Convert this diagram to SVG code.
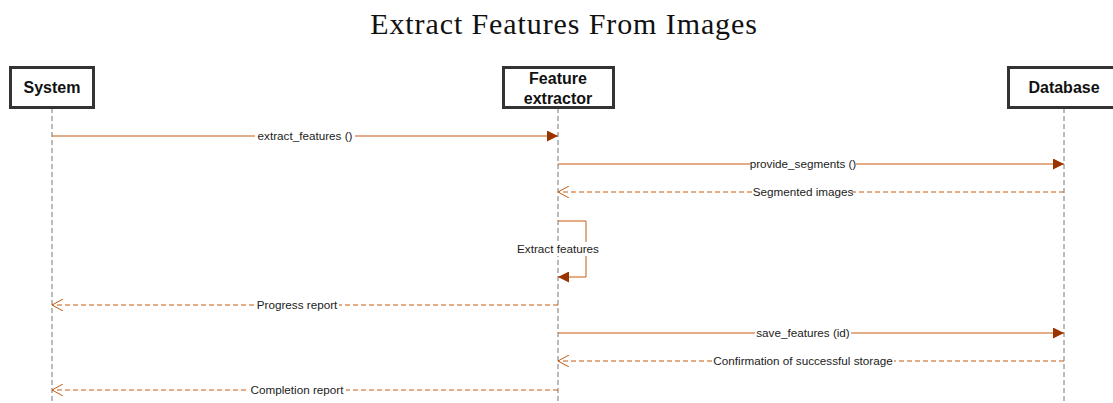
<svg xmlns="http://www.w3.org/2000/svg" width="1113" height="403" viewBox="0 0 1113 403">
  <defs>
    <style>
      .title { font-family: "Liberation Serif", serif; font-size: 30px; letter-spacing: 0.9px; fill: #111; }
      .box { fill: #fff; stroke: #333; stroke-width: 3; }
      .node-label { font-family: "Liberation Sans", Arial, sans-serif; font-size: 16px; font-weight: bold; fill: #111; }
      .lifeline { stroke: #777; stroke-width: 1; stroke-dasharray: 5 3; fill: none; }
      .call { stroke: #c55a11; stroke-width: 1; fill: none; }
      .reply { stroke: #c55a11; stroke-width: 1; stroke-dasharray: 5 3; fill: none; }
      .msg { font-family: "Liberation Sans", Arial, sans-serif; font-size: 11.7px; fill: #222; }
      .bg { fill: #fff; }
    </style>
    <marker id="filled" viewBox="0 0 10 10" refX="10" refY="5" markerWidth="11" markerHeight="11" markerUnits="userSpaceOnUse" orient="auto">
      <path d="M0,0 L10,5 L0,10 Z" fill="#993300"/>
    </marker>
    <marker id="open" viewBox="0 0 12 12" refX="11" refY="6" markerWidth="12" markerHeight="12" markerUnits="userSpaceOnUse" orient="auto">
      <path d="M0,0 L11,6 L0,12" fill="none" stroke="#c55a11" stroke-width="1"/>
    </marker>
  </defs>

  <rect width="1113" height="403" fill="#fff"/>

  <text class="title" x="564" y="34" text-anchor="middle">Extract Features From Images</text>

  <!-- lifelines -->
  <g id="lifelines">
    <line class="lifeline" x1="52" y1="108" x2="52" y2="403"/>
    <line class="lifeline" x1="558" y1="108" x2="558" y2="403"/>
    <line class="lifeline" x1="1064" y1="108" x2="1064" y2="403"/>
  </g>

  <g id="system">
    <rect class="box" x="10.5" y="67.5" width="83" height="40"/>
    <text class="node-label" x="52" y="93" text-anchor="middle">System</text>
  </g>

  <g id="feature-extractor">
    <rect class="box" x="503.5" y="67.5" width="110" height="40"/>
    <text class="node-label" x="558" y="84" text-anchor="middle">Feature</text>
    <text class="node-label" x="558" y="104" text-anchor="middle">extractor</text>
  </g>

  <g id="database">
    <rect class="box" x="1008.5" y="67.5" width="110" height="40"/>
    <text class="node-label" x="1064" y="93" text-anchor="middle">Database</text>
  </g>

  <g id="connectors">
    <!-- System -> Feature extractor -->
    <line class="call" x1="52" y1="136" x2="558" y2="136" marker-end="url(#filled)"/>
    <rect class="bg" x="255" y="129" width="100" height="14"/>
    <text class="msg" x="305" y="140" text-anchor="middle">extract_features ()</text>

    <!-- Feature extractor -> Database -->
    <line class="call" x1="558" y1="164" x2="1064" y2="164" marker-end="url(#filled)"/>
    <rect class="bg" x="750" y="157" width="106" height="14"/>
    <text class="msg" x="803" y="168" text-anchor="middle">provide_segments ()</text>

    <line class="reply" x1="1064" y1="192" x2="558" y2="192" marker-end="url(#open)"/>
    <rect class="bg" x="754" y="185" width="98" height="14"/>
    <text class="msg" x="803" y="196" text-anchor="middle">Segmented images</text>

    <!-- self call -->
    <path class="call" d="M558,221 H586 V277 H558" marker-end="url(#filled)"/>
    <rect class="bg" x="514" y="242" width="88" height="14"/>
    <text class="msg" x="558" y="253" text-anchor="middle">Extract features</text>

    <line class="reply" x1="558" y1="305" x2="52" y2="305" marker-end="url(#open)"/>
    <rect class="bg" x="255" y="298" width="84" height="14"/>
    <text class="msg" x="297" y="309" text-anchor="middle">Progress report</text>

    <line class="call" x1="558" y1="333" x2="1064" y2="333" marker-end="url(#filled)"/>
    <rect class="bg" x="755" y="326" width="96" height="14"/>
    <text class="msg" x="803" y="337" text-anchor="middle">save_features (id)</text>

    <line class="reply" x1="1064" y1="361" x2="558" y2="361" marker-end="url(#open)"/>
    <rect class="bg" x="712" y="354" width="182" height="14"/>
    <text class="msg" x="803" y="365" text-anchor="middle">Confirmation of successful storage</text>

    <line class="reply" x1="558" y1="390" x2="52" y2="390" marker-end="url(#open)"/>
    <rect class="bg" x="248" y="383" width="98" height="14"/>
    <text class="msg" x="297" y="394" text-anchor="middle">Completion report</text>
  </g>
</svg>
